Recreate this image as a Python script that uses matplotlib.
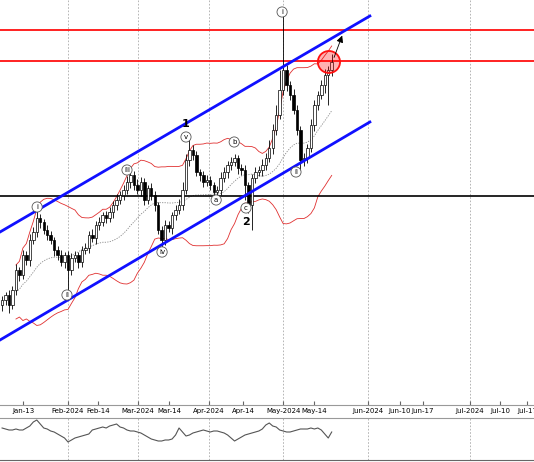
import matplotlib
matplotlib.use("Agg")
import matplotlib.pyplot as plt
from matplotlib.patches import Ellipse
import numpy as np
import pandas as pd

# closes (price units), one per trading day Jan 2 .. May 17 2024
closes = [100, 105, 95, 110, 130, 125, 145, 140, 160, 168, 182, 178, 170, 165, 160, 150,
          145, 138, 145, 130, 142, 145, 138, 150, 152, 165, 162, 175, 178, 185, 182, 188,
          195, 200, 205, 210, 218, 225, 215, 210, 218, 200, 212, 205, 195, 170, 160, 175,
          172, 185, 190, 195, 210, 240, 250, 245, 228, 225, 218, 220, 215, 208, 210, 222,
          228, 235, 238, 242, 232, 230, 215, 195, 222, 228, 230, 235, 242, 252, 270, 285,
          310, 330, 315, 305, 290, 270, 240, 242, 252, 275, 295, 305, 315, 325, 330, 338]
wick_up = [4, 3, 5, 4, 6, 3, 5, 4, 6, 5, 12, 4, 3, 5, 4, 3, 4, 5, 3, 4, 5, 4, 3, 4, 5, 4, 6,
           4, 5, 3, 4, 5, 4, 6, 4, 5, 6, 8, 4, 6, 5, 4, 3, 5, 4, 3, 4, 5, 4, 3, 5, 6, 8, 6, 14,
           5, 4, 3, 4, 5, 4, 3, 4, 6, 5, 4, 5, 4, 3, 4, 5, 3, 4, 5, 4, 6, 5, 8, 6, 10, 20, 58,
           5, 4, 6, 5, 4, 5, 4, 6, 5, 4, 5, 6, 4, 8]
wick_dn = [6, 5, 8, 4, 5, 6, 4, 5, 6, 4, 5, 6, 4, 5, 4, 6, 5, 4, 6, 25, 5, 4, 6, 5, 4, 5, 4,
           6, 5, 4, 5, 4, 6, 5, 4, 5, 4, 6, 5, 4, 6, 5, 4, 5, 6, 4, 15, 5, 4, 6, 5, 4, 5, 4, 6,
           5, 4, 6, 5, 4, 5, 6, 4, 5, 4, 6, 5, 4, 6, 5, 15, 8, 25, 5, 4, 6, 5, 4, 6, 5, 4, 5, 6,
           5, 4, 5, 12, 6, 5, 4, 6, 5, 4, 8, 30, 6]
indicator = [32, 31, 30, 30, 31, 30, 30, 32, 34, 38, 40, 36, 32, 31, 29, 28, 26, 24, 22, 18,
             20, 22, 23, 24, 25, 26, 30, 31, 32, 33, 32, 34, 35, 36, 33, 32, 30, 29, 29, 28,
             27, 25, 23, 21, 20, 19, 19, 20, 20, 21, 25, 32, 28, 24, 25, 27, 28, 29, 30, 29,
             28, 29, 29, 28, 27, 25, 22, 19, 21, 23, 25, 26, 27, 28, 29, 31, 35, 37, 34, 33,
             30, 29, 28, 28, 29, 30, 31, 31, 31, 32, 31, 32, 30, 26, 22, 28]

tick_pos = [6.1, 19.0, 27.7, 39.2, 48.1, 59.7, 69.5, 81.0, 89.9, 105.5, 114.7, 121.3,
            134.9, 143.5, 151.3]
tick_lbl = ["Jan-13", "Feb-2024", "Feb-14", "Mar-2024", "Mar-14", "Apr-2024", "Apr-14",
            "May-2024", "May-14", "Jun-2024", "Jun-10", "Jun-17", "Jul-2024", "Jul-10",
            "Jul-17"]
month_pos = [19.0, 39.2, 59.7, 81.0, 105.5, 134.9]

levels_red = [370, 339]
level_black = 204
chan_upper = ([-0.6, 106], [168, 384])
chan_lower = ([-0.6, 106], [60, 278])

waves = [("i", 10.1, 193), ("ii", 18.7, 105), ("iii", 36.0, 230), ("iv", 46.1, 148),
         ("v", 53.0, 263), ("a", 61.7, 200), ("b", 66.9, 258), ("c", 70.3, 192),
         ("i", 80.7, 388), ("ii", 84.7, 228)]
degree = [("1", 53.0, 276), ("2", 70.3, 178)]

fig = plt.figure(figsize=(5.34, 4.62), dpi=100)
ax = fig.add_axes([0, 1 - 405 / 462, 1, 405 / 462])
axi = fig.add_axes([0, 2 / 462, 1, 42 / 462])

c = np.array(closes, float)
o = np.r_[c[0] - 5, c[:-1]]
hi = np.maximum(o, c) + np.array(wick_up)
lo = np.minimum(o, c) - np.array(wick_dn)
idx = np.arange(len(c))

s = pd.Series(c)
mid = s.rolling(20, min_periods=5).mean()
sd = s.rolling(20, min_periods=5).std()
ax.plot(idx, mid + 2 * sd, color="#e03030", lw=0.6)
ax.plot(idx, mid - 2 * sd, color="#e03030", lw=0.6)
ax.plot(idx, mid, color="#888888", lw=0.6, ls=(0, (1.5, 1.5)))

for i in idx:
    ax.vlines(i, lo[i], hi[i], color="black", lw=0.6, zorder=3)
    up = c[i] >= o[i]
    b0, b1 = min(o[i], c[i]), max(o[i], c[i])
    ax.bar(i, max(b1 - b0, 1), bottom=b0, width=0.7,
           color="white" if up else "black", edgecolor="black", lw=0.5, zorder=4)

for y in levels_red:
    ax.axhline(y, color="#ff1010", lw=1.3, zorder=2)
ax.axhline(level_black, color="black", lw=1.2, zorder=2)
ax.plot(*chan_upper, color="#1010ff", lw=2, zorder=5)
ax.plot(*chan_lower, color="#1010ff", lw=2, zorder=5)

ax.add_patch(Ellipse((94.2, 338), 6.4, 22, facecolor=(1, 0, 0, 0.3),
                     edgecolor="#ff1010", lw=1.3, zorder=6))
ax.annotate("", xy=(98.3, 367), xytext=(95.4, 340),
            arrowprops=dict(arrowstyle="-|>", color="black", lw=0.6), zorder=7)

for t, x, y in waves:
    ax.text(x, y, t, ha="center", va="center", fontsize=5, zorder=8,
            bbox=dict(boxstyle="circle,pad=0.3", fc="white", ec="#555555", lw=0.6))
for t, x, y in degree:
    ax.text(x, y, t, ha="center", va="center", fontsize=8, fontweight="bold", zorder=8)

for m in month_pos:
    ax.axvline(m, color="#aaaaaa", lw=0.6, ls=(0, (2, 2)), zorder=0)
    axi.axvline(m, color="#aaaaaa", lw=0.6, ls=(0, (2, 2)), zorder=0)

ax.set_xlim(-0.6, 153.3)
ax.set_ylim(-5, 400)
ax.set_xticks(tick_pos)
ax.set_xticklabels(tick_lbl, fontsize=5)
ax.tick_params(axis="x", direction="in", length=3, pad=2, color="#666666")
ax.set_yticks([])
for sp in ax.spines.values():
    sp.set_visible(False)
ax.spines["bottom"].set_visible(True)
ax.spines["bottom"].set_color("#999999")

axi.plot(idx, indicator, color="#555555", lw=0.8)
axi.set_xlim(-0.6, 153.3)
axi.set_ylim(0, 42)
axi.set_xticks([])
axi.set_yticks([])
for sp in axi.spines.values():
    sp.set_visible(False)
axi.spines["top"].set_visible(True)
axi.spines["top"].set_color("#999999")
axi.spines["bottom"].set_visible(True)
axi.spines["bottom"].set_color("#666666")

fig.savefig("out.png", dpi=100)
